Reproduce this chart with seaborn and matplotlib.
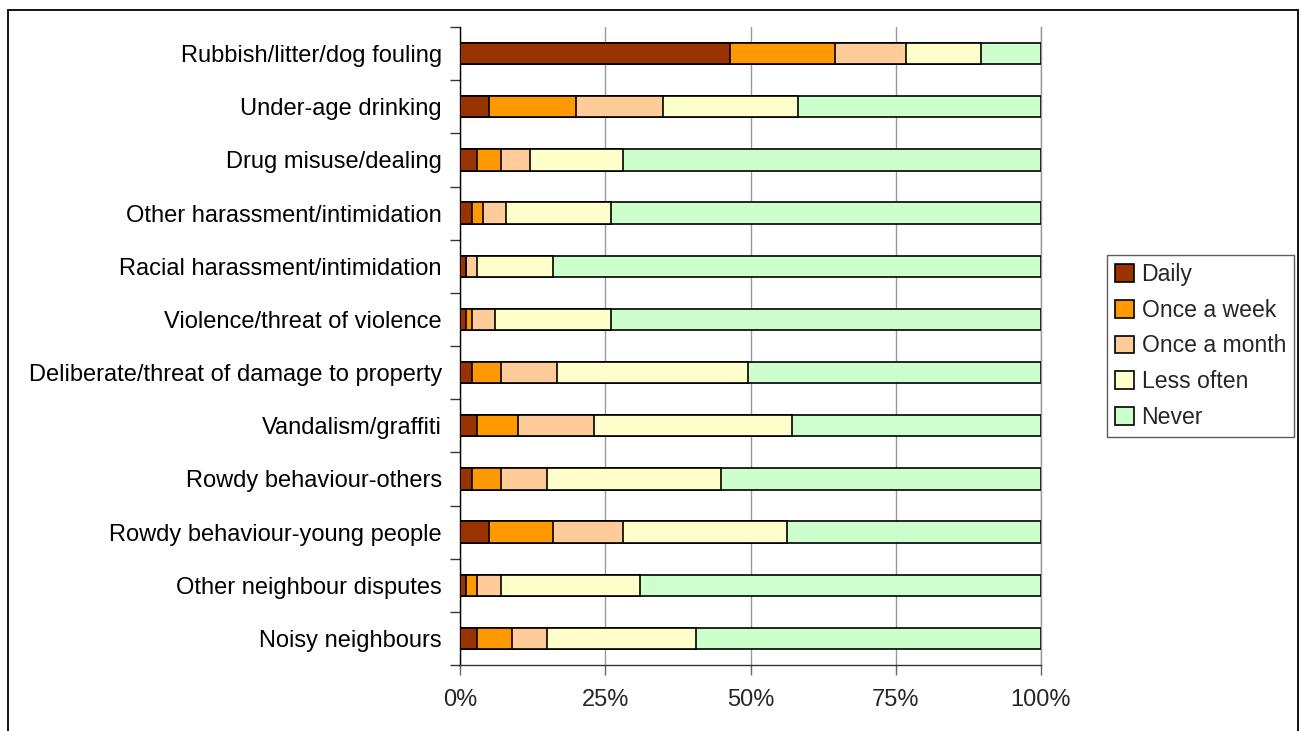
import matplotlib
matplotlib.use("Agg")
import matplotlib.pyplot as plt
from matplotlib.patches import Rectangle
from matplotlib.ticker import FixedLocator
import numpy as np
import pandas as pd
import seaborn as sns

categories = [
    "Rubbish/litter/dog fouling",
    "Under-age drinking",
    "Drug misuse/dealing",
    "Other harassment/intimidation",
    "Racial harassment/intimidation",
    "Violence/threat of violence",
    "Deliberate/threat of damage to property",
    "Vandalism/graffiti",
    "Rowdy behaviour-others",
    "Rowdy behaviour-young people",
    "Other neighbour disputes",
    "Noisy neighbours",
]

daily        = [46.4, 5.0, 3.0, 2.0, 1.0, 1.0, 2.0, 3.0, 2.0, 5.0, 1.0, 3.0]
once_week    = [18.2, 15.0, 4.0, 2.0, 0.0, 1.0, 5.0, 7.0, 5.0, 11.0, 2.0, 6.0]
once_month   = [12.2, 15.0, 5.0, 4.0, 2.0, 4.0, 9.7, 13.0, 8.0, 12.0, 4.0, 6.0]
less_often   = [12.9, 23.2, 16.0, 18.0, 13.0, 20.0, 32.9, 34.1, 30.0, 28.2, 24.0, 25.7]
never        = [10.3, 41.8, 72.0, 74.0, 84.0, 74.0, 50.4, 42.9, 55.0, 43.8, 69.0, 59.3]

series_names = ["Daily", "Once a week", "Once a month", "Less often", "Never"]
series_values = [daily, once_week, once_month, less_often, never]
colors = ["#993300", "#FF9900", "#FFCC99", "#FFFFCC", "#CCFFCC"]
x_ticks = [0, 25, 50, 75, 100]
x_tick_labels = ["0%", "25%", "50%", "75%", "100%"]

sns.set_style("white")
plt.rcParams["font.family"] = ["Liberation Sans", "DejaVu Sans"]

fig = plt.figure(figsize=(13.01, 7.31), dpi=100)
ax = fig.add_axes([460 / 1301, 1 - 665 / 731, 581 / 1301, 638 / 731])

# stacked horizontal bars: draw cumulative totals from the outermost segment inward
cum = np.cumsum(np.array(series_values), axis=0)
for i in range(len(series_names) - 1, -1, -1):
    df = pd.DataFrame({"category": categories, "value": cum[i]})
    sns.barplot(data=df, x="value", y="category", orient="h", order=categories,
                color=colors[i], edgecolor="black", linewidth=1.2,
                width=0.4, saturation=1, ax=ax, zorder=3)

ax.set_xlim(0, 100)
ax.set_ylim(len(categories) - 0.5, -0.5)
ax.set_xlabel("")
ax.set_ylabel("")

ax.xaxis.set_major_locator(FixedLocator(x_ticks))
ax.set_xticklabels(x_tick_labels)
ax.grid(axis="x", color="#999999", linewidth=1.0, zorder=0)
ax.grid(axis="y", visible=False)

# category separators as outward ticks on the y axis
ax.yaxis.set_minor_locator(FixedLocator(np.arange(-0.5, len(categories), 1.0)))
ax.tick_params(axis="y", which="major", length=0, pad=13, labelsize=17, colors="black")
ax.tick_params(axis="y", which="minor", left=True, length=7, width=1, color="#333333")
ax.tick_params(axis="x", which="major", bottom=True, length=7, width=1, color="#666666",
               pad=10, labelsize=17)

ax.spines["top"].set_visible(False)
ax.spines["right"].set_color("#999999")
ax.spines["left"].set_color("black")
ax.spines["bottom"].set_color("#333333")
for s in ax.spines.values():
    s.set_linewidth(1.0)

handles = [Rectangle((0, 0), 1, 1, facecolor=c, edgecolor="black", linewidth=1.2) for c in colors]
leg = fig.legend(handles, series_names, loc="upper left",
                 bbox_to_anchor=(1107 / 1301, 1 - 255 / 731),
                 fontsize=16.6, frameon=True, fancybox=False, edgecolor="#333333",
                 handlelength=0.8, handleheight=0.8, handletextpad=0.35,
                 labelspacing=0.55, borderpad=0.35, borderaxespad=0)
leg.get_frame().set_linewidth(1.0)

# outer chart frame
fig.patches.append(Rectangle((8 / 1301, -0.05), 1290 / 1301, 1 - 10 / 731 + 0.05,
                             transform=fig.transFigure, fill=False,
                             edgecolor="black", linewidth=1.3))

fig.savefig("out.png", dpi=100)
